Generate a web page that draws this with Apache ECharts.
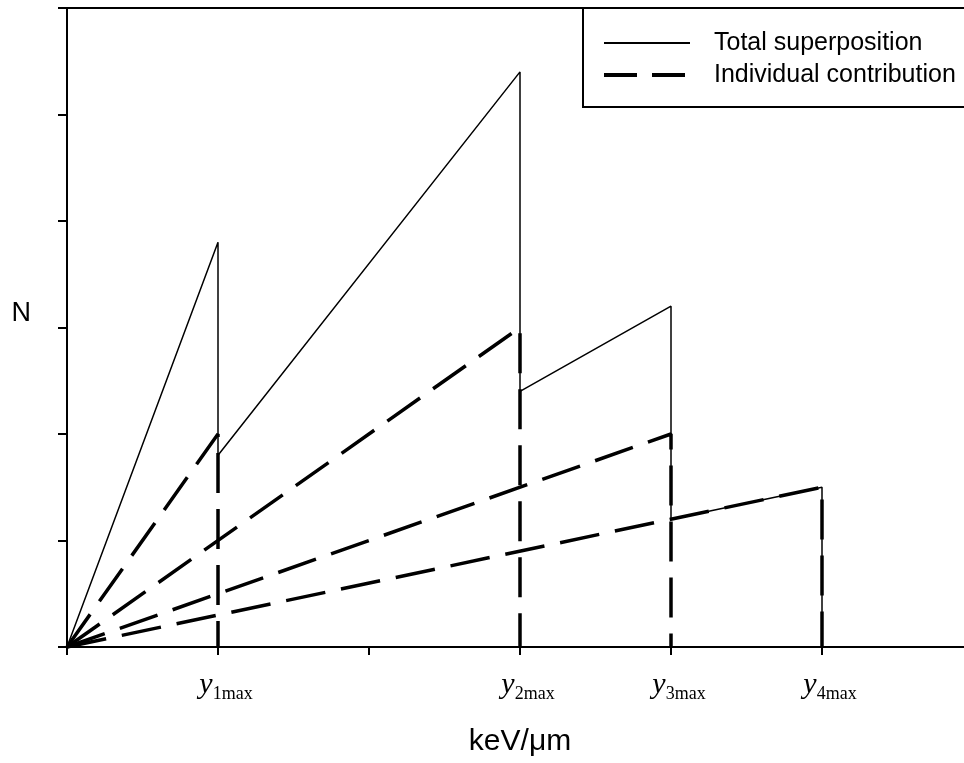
<!DOCTYPE html>
<html>
<head>
<meta charset="utf-8">
<script src="https://cdn.jsdelivr.net/npm/echarts@6/dist/echarts.min.js"></script>
<style>
html,body{margin:0;padding:0;background:#fff;}
#chart{width:964px;height:763px;}
</style>
</head>
<body>
<div id="chart"></div>
<script>
// Axis ticks / labels
const xTickLabelValues = [1, 3, 4, 5];
const xTickLabelSubs = ['1max', '2max', '3max', '4max'];

// Total superposition (solid)
const totalX = [0, 1, 1, 3, 3, 4, 4, 5, 5];
const totalN = [0, 3.8, 1.8, 5.4, 2.4, 3.2, 1.2, 1.5, 0];

// Individual contributions (dashed)
const ind1X = [0, 1, 1];
const ind1N = [0, 2.0, 0];
const ind2X = [0, 3, 3];
const ind2N = [0, 3.0, 0];
const ind3X = [0, 4, 4];
const ind3N = [0, 2.0, 0];
const ind4X = [0, 5, 5];
const ind4N = [0, 1.5, 0];

function pairs(xs, ys) { return xs.map((x, i) => [x, ys[i]]); }

const dashStyle = { color: '#000', width: 3.5, type: [40, 16] };
function dashedSeries(xs, ys) {
  return {
    name: 'Individual contribution', type: 'line', data: pairs(xs, ys),
    symbol: 'none', showSymbol: false, itemStyle: { color: '#000' }, lineStyle: dashStyle, z: 3
  };
}

const chart = echarts.init(document.getElementById('chart'));
chart.setOption({
  animation: false,
  backgroundColor: '#fff',
  grid: { left: 67, top: 8, width: 906, bottom: 116, containLabel: false, outerBoundsMode: 'none' },
  legend: {
    data: [
      { name: 'Total superposition', lineStyle: { color: '#000', width: 2, type: 'solid' } },
      { name: 'Individual contribution', lineStyle: { color: '#000', width: 4, type: [33, 15] } }
    ],
    orient: 'vertical', left: 583, top: 8,
    padding: [21, 60, 18, 19],
    itemWidth: 86, itemHeight: 14, itemGap: 4,
    itemStyle: { opacity: 0 },
    borderColor: '#000', borderWidth: 2,
    textStyle: { fontFamily: 'Liberation Sans, Arial', fontSize: 25, color: '#000', lineHeight: 28, padding: [0, 0, 0, 19] }
  },
  xAxis: [{
    type: 'value', min: 0, max: 6, interval: 1,
    name: 'keV/μm', nameLocation: 'middle', nameGap: 80,
    nameTextStyle: { fontFamily: 'Liberation Sans, Arial', fontSize: 30, color: '#000' },
    axisLine: { show: true, onZero: false, lineStyle: { color: '#000', width: 2 } },
    axisTick: { show: true, inside: false, length: 8, lineStyle: { color: '#000', width: 2 } },
    splitLine: { show: false },
    axisLabel: {
      margin: 20, color: '#000', padding: [0, 0, 0, 16],
      formatter: function (v) {
        const i = xTickLabelValues.indexOf(v);
        return i < 0 ? '' : '{y|y}{s|' + xTickLabelSubs[i] + '}';
      },
      rich: {
        y: { fontFamily: 'Liberation Serif, Times New Roman', fontStyle: 'italic', fontSize: 30, lineHeight: 30, color: '#000', verticalAlign: 'middle' },
        s: { fontFamily: 'Liberation Serif, Times New Roman', fontSize: 18, lineHeight: 36, color: '#000', verticalAlign: 'bottom' }
      }
    }
  }, {
    type: 'value', min: 0, max: 6, position: 'top',
    axisLine: { show: true, onZero: false, lineStyle: { color: '#000', width: 2 } },
    axisTick: { show: false }, axisLabel: { show: false }, splitLine: { show: false }
  }],
  yAxis: {
    type: 'value', min: 0, max: 6, interval: 1,
    name: 'N', nameLocation: 'middle', nameRotate: 0, nameGap: 36,
    nameTextStyle: { fontFamily: 'Liberation Sans, Arial', fontSize: 27, color: '#000', verticalAlign: 'bottom' },
    axisLine: { show: true, onZero: false, lineStyle: { color: '#000', width: 2 } },
    axisTick: { show: true, inside: false, length: 9, lineStyle: { color: '#000', width: 2 } },
    axisLabel: { show: false },
    splitLine: { show: false }
  },
  series: [
    {
      name: 'Total superposition', type: 'line', data: pairs(totalX, totalN),
      symbol: 'none', showSymbol: false, itemStyle: { color: '#000' },
      lineStyle: { color: '#000', width: 1.5, type: 'solid' }, z: 2
    },
    dashedSeries(ind1X, ind1N),
    dashedSeries(ind2X, ind2N),
    dashedSeries(ind3X, ind3N),
    dashedSeries(ind4X, ind4N)
  ]
});
</script>
</body>
</html>
